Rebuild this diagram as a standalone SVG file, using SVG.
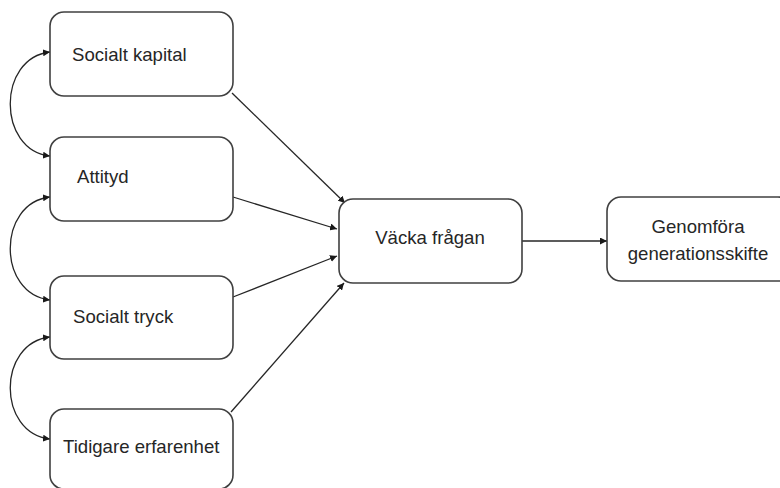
<svg xmlns="http://www.w3.org/2000/svg" width="780" height="488" viewBox="0 0 780 488">
<defs>
<style>
.box{fill:#fff;stroke:#404040;stroke-width:1.6}
.lbl{font-family:"Liberation Sans",Arial,sans-serif;font-size:18.6px;fill:#262626}
.ctr{text-anchor:middle}
.con{fill:none;stroke:#262626;stroke-width:1.3}
</style>
<marker id="ah" viewBox="0 0 10 10" refX="10" refY="5" markerWidth="7" markerHeight="7" markerUnits="userSpaceOnUse" orient="auto-start-reverse">
<path d="M0,0 L10,5 L0,10 z" fill="#1a1a1a"/>
</marker>
</defs>
<rect width="780" height="488" fill="#fff"/>
<g id="connectors">
<path class="con" d="M232,93 L345,203" marker-end="url(#ah)"/>
<path class="con" d="M233,197 L337,229" marker-end="url(#ah)"/>
<path class="con" d="M233,297 L337,256" marker-end="url(#ah)"/>
<path class="con" d="M231,412 L344,283" marker-end="url(#ah)"/>
<path class="con" d="M522,241 L607,241" marker-end="url(#ah)"/>
<path class="con" d="M50,52 C-3,58 -3,150 50,156" marker-start="url(#ah)" marker-end="url(#ah)"/>
<path class="con" d="M50,197 C-3,203 -3,294 50,300" marker-start="url(#ah)" marker-end="url(#ah)"/>
<path class="con" d="M50,337 C-3,343 -3,433 50,439" marker-start="url(#ah)" marker-end="url(#ah)"/>
</g>
<g id="socialt-kapital">
<rect class="box" x="50" y="12" width="183" height="84" rx="14"/>
<text class="lbl" x="72" y="61">Socialt kapital</text>
</g>
<g id="attityd">
<rect class="box" x="50" y="137" width="183" height="84" rx="14"/>
<text class="lbl" x="77" y="183">Attityd</text>
</g>
<g id="socialt-tryck">
<rect class="box" x="50" y="276" width="183" height="83" rx="14"/>
<text class="lbl" x="73" y="323">Socialt tryck</text>
</g>
<g id="tidigare-erfarenhet">
<rect class="box" x="50" y="409" width="183" height="80" rx="14"/>
<text class="lbl" x="63" y="453">Tidigare erfarenhet</text>
</g>
<g id="vacka-fragan">
<rect class="box" x="339" y="199" width="183" height="84" rx="14"/>
<text class="lbl ctr" x="430" y="244">Väcka frågan</text>
</g>
<g id="genomfora">
<rect class="box" x="607" y="197" width="185" height="84" rx="14"/>
<text class="lbl ctr" x="698" y="233">Genomföra</text>
<text class="lbl ctr" x="698" y="260">generationsskifte</text>
</g>
</svg>
